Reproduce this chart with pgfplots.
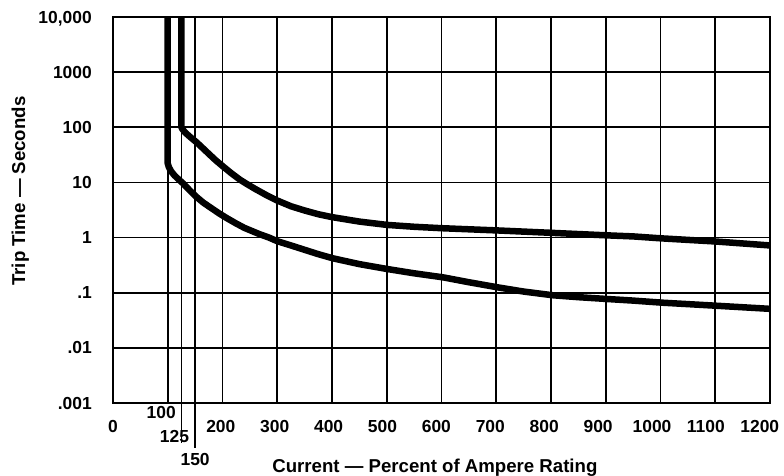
\documentclass[border=0pt]{standalone}
\usepackage{fontspec}
\setmainfont{Liberation Sans}
\usepackage{pgfplots}
\pgfplotsset{compat=1.18}
\begin{document}
\begin{tikzpicture}
\newcommand\lf{\bfseries\fontsize{17.5}{17.5}\selectfont}
\newcommand\Lf{\bfseries\fontsize{18.7}{18.7}\selectfont}
\begin{axis}[
  scale only axis,
  width=657bp, height=386bp,
  xmin=0, xmax=1200,
  ymode=log, log basis y=10,
  ymin=0.001, ymax=10000,
  xtick={0,100,125,150,200,300,400,500,600,700,800,900,1000,1100,1200},
  xticklabels={0,,,,200,300,400,500,600,700,800,900,1000,1100,1200},
  ytick={0.001,0.01,0.1,1,10,100,1000,10000},
  yticklabels={.001,.01,.1,1,10,100,1000,{10,000}},
  major tick length=0pt,
  minor tick num=0,
  grid=major,
  grid style={black, line width=1.6bp},
  axis line style={black, line width=1.6bp},
  tick label style={font=\lf},
  xticklabel style={anchor=base, yshift=-29bp, xshift={-0.0085*\tick*1bp}, inner sep=0pt},
  yticklabel style={anchor=base east, xshift=-21bp, yshift=-6bp, inner sep=0pt},
  xlabel={Current — Percent of Ampere Rating},
  ylabel={Trip Time — Seconds},
  label style={font=\Lf},
  xlabel style={at={(axis description cs:0.49,-0.1788)}, anchor=base},
  ylabel style={at={(axis description cs:-0.1339,0.549)}, anchor=base, rotate=0},
  clip mode=individual,
]
\addplot[black, line width=6.5bp, line join=round, line cap=round] coordinates {
(100,10000) (100,22) (102,19) (106,16) (112,13.5) (120,11.3) (128,9.6) (140,7.2) (153,5.4) (165,4.3) (180,3.4) (195,2.7) (208,2.25)
(225,1.8) (240,1.5) (255,1.3) (268,1.15) (285,1.0) (300,0.86) (325,0.72) (350,0.6) (375,0.5) (402,0.42) (450,0.33) (500,0.27)
(550,0.225) (603,0.19) (650,0.155) (703,0.125) (750,0.105) (803,0.09)
(850,0.083) (902,0.077) (950,0.072) (1003,0.066) (1103,0.058) (1200,0.051)
};
\addplot[black, line width=6.5bp, line join=round, line cap=round] coordinates {
(125,10000) (125,100) (127,92) (132,80) (140,68) (153,53) (165,41) (175,33) (188,25) (201,19.5) (215,15) (232,11.2)
(245,9.3) (260,7.6) (280,5.9) (300,4.7) (325,3.7) (350,3.1) (375,2.65) (400,2.35) (450,1.95) (500,1.7) (550,1.57) (600,1.48)
(700,1.35) (800,1.22) (900,1.1) (950,1.05) (1000,0.97) (1100,0.85) (1200,0.72)
};
\draw[black, line width=1.6bp] (axis cs:125,0.001) -- ([yshift=-40bp]axis cs:125,0.001);
\draw[black, line width=1.6bp] (axis cs:150,0.001) -- ([yshift=-45bp]axis cs:150,0.001);
\node[font=\lf, anchor=base, inner sep=0pt] at ([xshift=-6.5bp, yshift=-15bp]axis cs:100,0.001) {100};
\node[font=\lf, anchor=base, inner sep=0pt] at ([xshift=-7bp, yshift=-39bp]axis cs:125,0.001) {125};
\node[font=\lf, anchor=base, inner sep=0pt] at ([xshift=0bp, yshift=-62bp]axis cs:150,0.001) {150};
\end{axis}
\pgfresetboundingbox
\path (-113bp,-73bp) rectangle (671bp,403bp);
\end{tikzpicture}
\end{document}
